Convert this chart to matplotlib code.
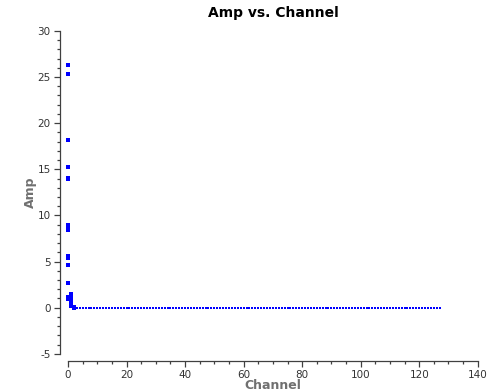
import matplotlib
matplotlib.use("Agg")
import matplotlib.pyplot as plt
from matplotlib.ticker import MultipleLocator

plt.rcParams['axes.unicode_minus'] = False

# Amplitude per channel (several baselines/correlations stacked per channel)
chan_lo = [0] * 16 + [1] * 5 + [2] * 3
amp_lo = [26.3, 25.3, 18.2, 15.2, 14.1, 13.9, 9.0, 8.8, 8.4, 5.6, 5.4, 4.6,
          2.7, 1.2, 0.95, 0.9,
          1.5, 1.0, 0.7, 0.4, 0.15,
          0.1, 0.05, 0.02]

chan_hi = list(range(3, 128))
amp_hi = [0.02, 0.01, 0.0, -0.02, -0.03, -0.03, -0.04, -0.04, -0.03, -0.04,
          -0.04, -0.03, -0.04, -0.04, -0.03, -0.04, -0.04, -0.03, -0.04, -0.04,
          -0.03, -0.04, -0.04, -0.03, -0.04, -0.04, -0.03, -0.04, -0.04, -0.03,
          -0.04, -0.04, -0.03, -0.04, -0.04, -0.03, -0.04, -0.04, -0.03, -0.04,
          -0.04, -0.03, -0.04, -0.04, -0.03, -0.04, -0.02, 0.01, 0.02, 0.01,
          -0.02, -0.03, -0.03, -0.02, 0.01, 0.02, 0.01, 0.0, 0.01, 0.0,
          0.01, 0.0, 0.01, 0.0, 0.01, 0.0, 0.01, 0.0, 0.01, 0.0,
          0.01, 0.0, 0.01, 0.0, 0.01, 0.0, 0.01, 0.0, 0.01, 0.0,
          0.01, 0.0, 0.01, 0.0, 0.01, 0.0, 0.01, 0.0, 0.01, 0.0,
          0.01, 0.0, 0.01, 0.0, 0.01, 0.0, 0.01, 0.0, 0.01, 0.0,
          0.01, 0.0, 0.01, 0.0, 0.01, 0.0, 0.01, 0.0, 0.01, 0.0,
          0.01, 0.0, 0.01, 0.0, 0.01, 0.0, 0.01, 0.0, 0.01, 0.0,
          0.0, -0.01, -0.02, -0.02, -0.02]

fig = plt.figure(figsize=(4.93, 3.91), dpi=100)
ax = fig.add_axes([0.138, 0.095, 0.831, 0.826])

ax.plot(chan_lo, amp_lo, linestyle='none', marker='s', markersize=2.2,
        markeredgewidth=0, color='#0000ff', clip_on=False)
ax.plot(chan_hi, amp_hi, linestyle='none', marker='s', markersize=1.8,
        markeredgewidth=0, color='#0000ff', clip_on=False)

ax.set_xlim(0, 140)
ax.set_ylim(-5, 30)
ax.xaxis.set_major_locator(MultipleLocator(20))
ax.xaxis.set_minor_locator(MultipleLocator(5))
ax.yaxis.set_major_locator(MultipleLocator(5))
ax.yaxis.set_minor_locator(MultipleLocator(1))

for side in ('top', 'right'):
    ax.spines[side].set_visible(False)
ax.spines['left'].set_position(('outward', 6))
ax.spines['bottom'].set_position(('outward', 5))
for side in ('left', 'bottom'):
    ax.spines[side].set_color('#404040')
    ax.spines[side].set_linewidth(0.9)

ax.tick_params(which='both', direction='out', colors='#404040', labelcolor='#333333',
               labelsize=7.5, width=0.9, pad=2)
ax.tick_params(which='major', length=4.5)
ax.tick_params(which='minor', length=2.5)

ax.set_title('Amp vs. Channel', fontsize=10, fontweight='bold', pad=10)
ax.set_xlabel('Channel', fontsize=9, fontweight='bold', color='#707070', va='baseline')
ax.xaxis.set_label_coords(0.5, -0.108)
ax.set_ylabel('Amp', fontsize=9, fontweight='bold', color='#707070', labelpad=0)

fig.savefig('out.png', dpi=100)
